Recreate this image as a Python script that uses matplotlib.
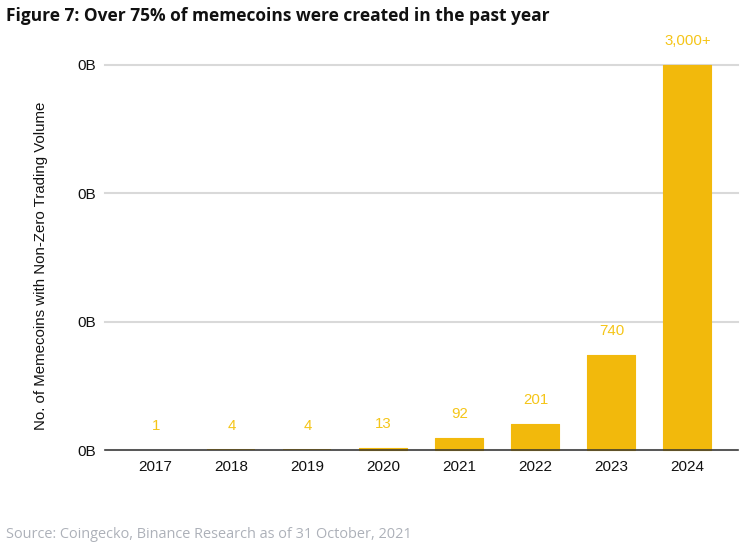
import matplotlib
matplotlib.use("Agg")
import matplotlib.pyplot as plt

years = ["2017", "2018", "2019", "2020", "2021", "2022", "2023", "2024"]
counts = [1, 4, 4, 13, 92, 201, 740, 3000]
bar_labels = ["1", "4", "4", "13", "92", "201", "740", "3,000+"]
y_ticks = [0, 1000, 2000, 3000]
y_tick_labels = ["0B", "0B", "0B", "0B"]

W, H = 752, 554
fig = plt.figure(figsize=(W / 100, H / 100), dpi=100, facecolor="white")
ax = fig.add_axes([105 / W, 1 - 450 / H, (738 - 105) / W, (450 - 65) / H])
ax.set_xlim(-0.66, 7.67)
ax.set_ylim(0, 3000)
ax.set_facecolor("white")

ax.yaxis.grid(True, color="#d9d9d9", lw=1.5, zorder=0, clip_on=False)
ax.set_axisbelow(True)
bars = ax.bar(range(len(years)), counts, width=0.63, color="#F2B90C", edgecolor="#F2B90C",
              lw=0.8, zorder=2)
for b, c in zip(bars, counts):
    b.set_joinstyle("round")
    b.set_clip_on(False)
    if c < 10:
        b.set_linewidth(0)

for i, (c, lab) in enumerate(zip(counts, bar_labels)):
    ax.annotate(lab, (i, c), xytext=(0.3, 17.2), textcoords="offset points", ha="center", va="center",
                color="#F5C518", fontsize=10.8, family="Liberation Sans", annotation_clip=False)

for s in ["top", "right", "left"]:
    ax.spines[s].set_visible(False)
ax.spines["bottom"].set_color("#333333")
ax.spines["bottom"].set_linewidth(1.1)
ax.spines["bottom"].set_zorder(3)

ax.set_xticks(range(len(years)), years)
ax.set_yticks(y_ticks, y_tick_labels)
ax.tick_params(axis="both", length=0, labelsize=11, labelcolor="#111111")
ax.tick_params(axis="x", pad=7)
ax.tick_params(axis="y", pad=6.5)
for t in ax.get_xticklabels() + ax.get_yticklabels():
    t.set_family("Liberation Sans")

fig.text(41 / W, 1 - 266 / H, "No. of Memecoins with Non-Zero Trading Volume", rotation=90,
         ha="center", va="center", fontsize=10.85, family="Liberation Sans", color="#111111")
fig.text(6 / W, 1 - 16 / H, "Figure 7: Over 75% of memecoins were created in the past year",
         ha="left", va="center", fontsize=12.5, fontweight="bold", family="Open Sans", color="#111111")
fig.text(6 / W, 1 - 534 / H, "Source: Coingecko, Binance Research as of 31 October, 2021",
         ha="left", va="center", fontsize=10.48, family="Open Sans", color="#adb1b9")

fig.savefig("out.png", dpi=100, facecolor="white")
